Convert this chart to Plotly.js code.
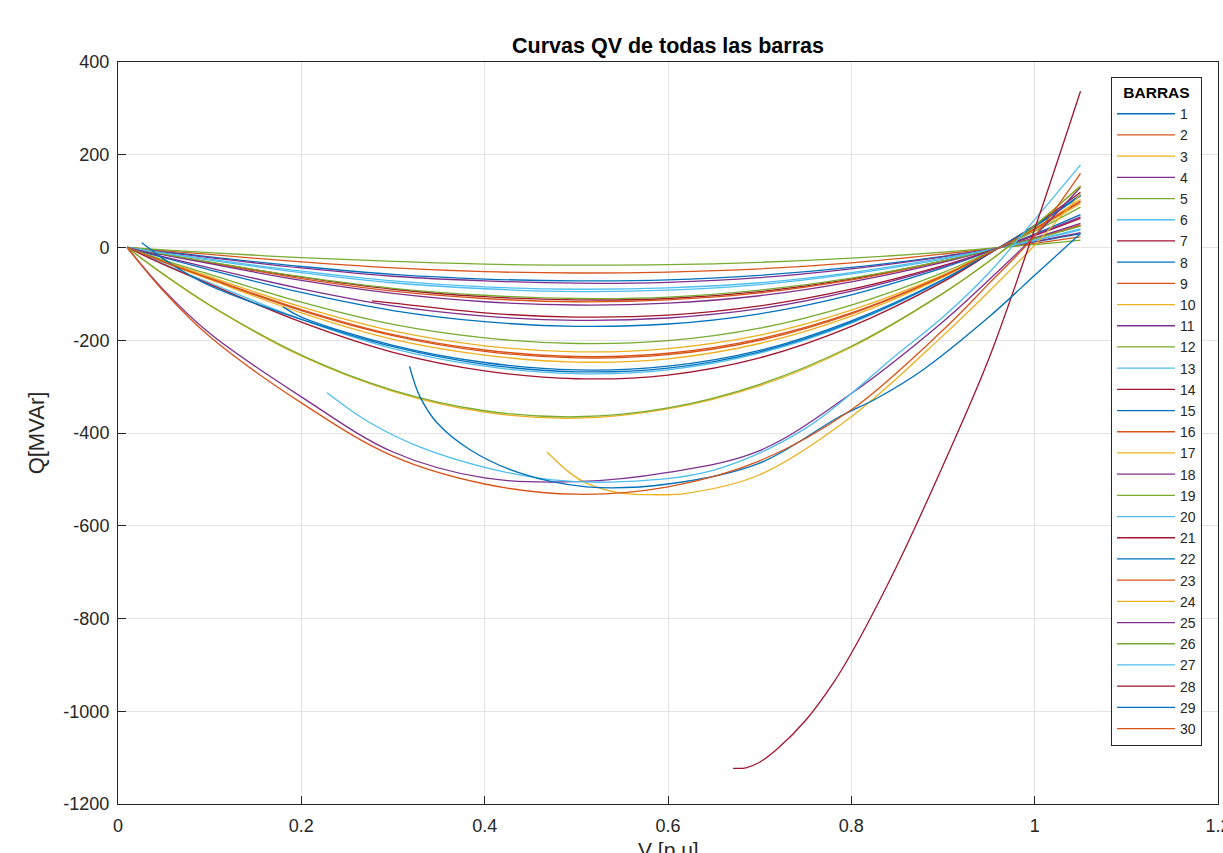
<!DOCTYPE html>
<html>
<head>
<meta charset="utf-8">
<script src="https://cdn.plot.ly/plotly-3.0.1.min.js"></script>
<style>html,body{margin:0;padding:0;background:#fff;}#chart{width:1223px;height:853px;}</style>
</head>
<body>
<div id="chart"></div>
<script>
// Shared voltage grid (p.u.) for full-range curves
const V_FULL = [0.01, 0.05, 0.1, 0.2, 0.3, 0.4, 0.5, 0.6, 0.7, 0.8, 0.9, 0.95, 1.0, 1.05];

// Q [MVAr] values, one array per bus
const Q1  = [0, -9, -20, -41, -58, -68, -72, -70, -60, -43, -19, -4, 12, 30];
const Q2  = [0, -7, -15, -31, -44, -52, -55, -53, -46, -33, -14, -3, 9, 23];
const Q3  = [0, -29, -63, -128, -180, -212, -225, -218, -189, -135, -59, -11, 38, 95];
const Q4  = [0, -10, -22, -44, -62, -72, -77, -75, -65, -46, -20, -4, 13, 32];
const Q5  = [0, -5, -11, -22, -30, -36, -38, -37, -32, -23, -10, -2, 6, 16];
const Q6  = [0, -12, -25, -51, -72, -85, -90, -87, -76, -54, -23, -5, 15, 38];
const Q7  = [0, -15, -32, -64, -90, -106, -113, -110, -95, -68, -29, -6, 19, 47];
const Q8  = [0, -22, -48, -97, -136, -160, -170, -165, -143, -102, -44, -9, 29, 71];
const Q9  = [0, -15, -33, -67, -94, -110, -117, -113, -98, -70, -30, -6, 20, 49];
const Q10 = [0, -32, -69, -141, -198, -232, -247, -240, -207, -148, -64, -12, 42, 104];
const Q11 = [0, -16, -35, -71, -99, -117, -124, -120, -104, -74, -32, -6, 21, 52];
const Q12 = [0, -14, -31, -63, -88, -103, -110, -107, -92, -66, -29, -6, 19, 46];
const Q13 = [0, -12, -27, -54, -76, -89, -95, -92, -80, -57, -25, -5, 16, 40];
const V14 = [0.277, 0.3, 0.4, 0.5, 0.6, 0.7, 0.8, 0.9, 0.95, 1.0, 1.05];
const Q14 = [-115, -120, -141, -150, -146, -126, -90, -39, -8, 26, 63];
const V15 = [0.18, 0.2, 0.3, 0.4, 0.5, 0.6, 0.7, 0.8, 0.9, 0.95, 1.0, 1.05];
const Q15 = [-128, -150, -211, -248, -264, -256, -222, -158, -69, -13, 45, 111];
const Q16 = [0, -31, -66, -134, -188, -221, -235, -228, -197, -141, -61, -12, 40, 99];
const Q17 = [0, -59, -125, -234, -310, -355, -368, -348, -298, -215, -99, -30, 47, 133];
const Q18 = [0, -20, -44, -89, -126, -148, -157, -152, -132, -94, -41, -8, 27, 66];
const Q19 = [0, -27, -58, -118, -166, -195, -207, -201, -174, -124, -54, -10, 35, 87];
const Q20 = [0, -35, -76, -155, -218, -256, -272, -264, -228, -163, -71, -14, 46, 114];
const Q21 = [0, -37, -79, -161, -226, -266, -283, -275, -238, -170, -74, -14, 48, 119];
const V22 = [0.026, 0.05, 0.08, 0.1, 0.2, 0.3, 0.4, 0.5, 0.6, 0.7, 0.8, 0.9, 0.95, 1.0, 1.05];
const Q22 = [10, -25, -62, -82, -155, -214, -252, -268, -260, -225, -161, -70, -13, 46, 113];
const Q23 = [0, -31, -67, -136, -190, -224, -238, -231, -200, -143, -62, -12, 40, 100];
const V24 = [0.468, 0.493, 0.511, 0.547, 0.583, 0.62, 0.7, 0.8, 0.9, 0.95, 1.0, 1.05];
const Q24 = [-441, -486, -508, -529, -533, -530, -490, -365, -190, -95, 5, 115];
const Q25 = [0, -92, -185, -322, -441, -497, -505, -485, -438, -315, -160, -70, 25, 130];
const Q26 = [0, -58, -124, -232, -308, -352, -365, -346, -295, -213, -99, -30, 47, 132];
const V27 = [0.228, 0.275, 0.329, 0.402, 0.474, 0.55, 0.65, 0.75, 0.85, 0.9, 0.95, 1.0, 1.05];
const Q27 = [-313, -378, -430, -475, -501, -505, -480, -390, -230, -150, -55, 60, 178];
const V28 = [0.671, 0.685, 0.70, 0.72, 0.75, 0.78, 0.80, 0.85, 0.90, 0.95, 1.0, 1.05];
const Q28 = [-1123, -1122, -1110, -1080, -1020, -940, -875, -685, -470, -240, 40, 337];
const V29 = [0.318, 0.329, 0.348, 0.384, 0.438, 0.511, 0.6, 0.7, 0.787, 0.828, 0.878, 0.95, 1.0, 1.05];
const Q29 = [-256, -320, -378, -436, -486, -516, -510, -465, -365, -325, -264, -150, -60, 30];
const Q30 = [0, -95, -192, -335, -450, -510, -532, -516, -460, -350, -178, -78, 25, 160];

const BUS_LABELS = ['1','2','3','4','5','6','7','8','9','10','11','12','13','14','15',
                    '16','17','18','19','20','21','22','23','24','25','26','27','28','29','30'];
const BUS_V = [V_FULL, V_FULL, V_FULL, V_FULL, V_FULL, V_FULL, V_FULL, V_FULL, V_FULL, V_FULL,
               V_FULL, V_FULL, V_FULL, V14, V15, V_FULL, V_FULL, V_FULL, V_FULL, V_FULL,
               V_FULL, V22, V_FULL, V24, V_FULL, V_FULL, V27, V28, V29, V_FULL];
const BUS_Q = [Q1, Q2, Q3, Q4, Q5, Q6, Q7, Q8, Q9, Q10, Q11, Q12, Q13, Q14, Q15,
               Q16, Q17, Q18, Q19, Q20, Q21, Q22, Q23, Q24, Q25, Q26, Q27, Q28, Q29, Q30];

const COLORS = ['#0072BD', '#D95319', '#EDB120', '#7E2F8E', '#77AC30', '#4DBEEE', '#A2142F'];

const Y_TICKS = [-1200, -1000, -800, -600, -400, -200, 0, 200, 400];
const Y_TICK_TEXT = ['-1200', '-1000', '-800', '-600', '-400', '-200', '0', '200', '400'];
const X_TICKS = [0, 0.2, 0.4, 0.6, 0.8, 1, 1.2];
const X_TICK_TEXT = ['0', '0.2', '0.4', '0.6', '0.8', '1', '1.2'];

const traces = BUS_LABELS.map((name, i) => ({
  type: 'scatter',
  mode: 'lines',
  name: name,
  x: BUS_V[i],
  y: BUS_Q[i],
  line: { color: COLORS[i % COLORS.length], width: 1.3, shape: 'spline', smoothing: 1 }
}));

const FONT = 'Arial, "Liberation Sans", Helvetica, sans-serif';

// page geometry (pixels of the 1223x853 page)
const PLOT_L = 118, PLOT_R = 1218, PLOT_T = 62, PLOT_B = 804;
const LEG_L = 1111, LEG_R = 1201, LEG_T = 77, LEG_SEP = 100;
const XTITLE_TOP = 836;
const px2x = p => (p - PLOT_L) / (PLOT_R - PLOT_L);
const px2y = p => (PLOT_B - p) / (PLOT_B - PLOT_T);

const layout = {
  width: 1223,
  height: 853,
  paper_bgcolor: '#ffffff',
  plot_bgcolor: '#ffffff',
  margin: { l: PLOT_L, r: 1223 - PLOT_R, t: PLOT_T, b: 853 - PLOT_B },
  font: { family: FONT, color: '#262626' },
  showlegend: true,
  title: {
    text: '<b>Curvas QV de todas las barras</b>',
    font: { family: FONT, size: 21.5, color: '#000000' },
    x: 0.5, xref: 'paper', xanchor: 'center',
    y: 1 - 45 / 853, yref: 'container', yanchor: 'middle'
  },
  xaxis: {
    range: [0, 1.2],
    tickvals: X_TICKS,
    ticktext: X_TICK_TEXT,
    ticks: 'inside', ticklen: 8, tickcolor: '#262626',
    ticklabelstandoff: 5,
    ticklabeloverflow: 'allow',
    showgrid: true, gridcolor: '#e3e3e3', gridwidth: 1,
    zeroline: false,
    showline: true, linecolor: '#262626', linewidth: 1, mirror: true,
    tickfont: { family: FONT, size: 18, color: '#262626' }
  },
  yaxis: {
    range: [-1200, 400],
    tickvals: Y_TICKS,
    ticktext: Y_TICK_TEXT,
    ticks: 'inside', ticklen: 8, tickcolor: '#262626',
    ticklabelstandoff: 4,
    showgrid: true, gridcolor: '#e3e3e3', gridwidth: 1,
    zeroline: false,
    showline: true, linecolor: '#262626', linewidth: 1, mirror: true,
    tickfont: { family: FONT, size: 18, color: '#262626' },
    title: { text: 'Q[MVAr]', font: { family: FONT, size: 22, color: '#262626' }, standoff: 12 }
  },
  annotations: [{
    // x-axis title, placed below the tick labels (partly past the page edge, as in the reference)
    text: 'V [p.u]', xref: 'paper', yref: 'paper',
    x: 0.5, y: px2y(XTITLE_TOP), xanchor: 'center', yanchor: 'top',
    showarrow: false,
    font: { family: FONT, size: 21, color: '#262626' }
  }],
  legend: {
    x: px2x(LEG_L), y: px2y(LEG_T),
    xanchor: 'left', yanchor: 'top',
    bgcolor: '#ffffff', bordercolor: '#262626', borderwidth: 1,
    font: { family: FONT, size: 14, color: '#262626' },
    title: { text: '<b>BARRAS</b>', side: 'top center', font: { family: FONT, size: 15.5, color: '#000000' } },
    itemwidth: 58,
    tracegroupgap: 0
  },
  shapes: [{
    type: 'line', xref: 'paper', yref: 'paper',
    x0: px2x(LEG_L), x1: px2x(LEG_R), y0: px2y(LEG_SEP), y1: px2y(LEG_SEP),
    line: { color: '#262626', width: 1 }
  }]
};

Plotly.newPlot('chart', traces, layout, { displayModeBar: false, staticPlot: true });
</script>
</body>
</html>
